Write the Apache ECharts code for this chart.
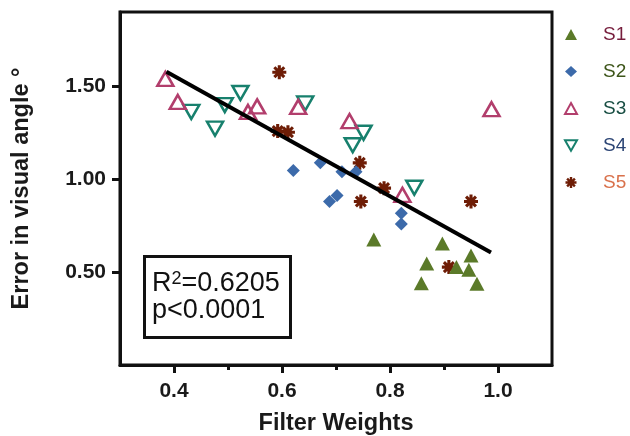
<!DOCTYPE html>
<html>
<head>
<meta charset="utf-8">
<script src="https://cdn.jsdelivr.net/npm/echarts@6/dist/echarts.min.js"></script>
<style>
  html, body { margin: 0; padding: 0; background: #fff; }
  #chart { width: 630px; height: 436px; }
</style>
</head>
<body>
<div id="chart"></div>
<script>
// Per-subject measurements: filter weight (x) vs. error in visual angle (y)
var s1X = [0.770, 0.897, 0.868, 0.858, 0.923, 0.950, 0.946, 0.961];
var s1Y = [0.676, 0.654, 0.546, 0.440, 0.527, 0.590, 0.513, 0.437];

var s2X = [0.621, 0.671, 0.711, 0.737, 0.688, 0.702, 0.821, 0.821];
var s2Y = [1.047, 1.088, 1.040, 1.040, 0.880, 0.912, 0.817, 0.759];

var s3X = [0.384, 0.407, 0.537, 0.554, 0.630, 0.725, 0.823, 0.988];
var s3Y = [1.540, 1.416, 1.362, 1.392, 1.389, 1.313, 0.916, 1.377];

var s4X = [0.432, 0.476, 0.494, 0.523, 0.643, 0.731, 0.751, 0.845];
var s4Y = [1.362, 1.272, 1.399, 1.464, 1.408, 1.183, 1.250, 0.954];

var s5X = [0.595, 0.592, 0.611, 0.744, 0.789, 0.746, 0.950, 0.909];
var s5Y = [1.576, 1.259, 1.253, 1.088, 0.952, 0.880, 0.880, 0.527];

// Linear fit endpoints
var fitX = [0.386, 0.987];
var fitY = [1.579, 0.605];

// Axis ticks
var xMajorTicks = [0.4, 0.6, 0.8, 1.0];
var xMinorTicks = [0.5, 0.7, 0.9];
var yTicks = [0.5, 1.0, 1.5];

var seriesNames = ['S1', 'S2', 'S3', 'S4', 'S5'];
var statLine1 = '=0.6205';
var statLine2 = 'p<0.0001';

function pairs(xs, ys) {
  return xs.map(function (x, i) { return [x, ys[i]]; });
}

// 8-spoke asterisk built from four crossed bars
function asteriskPath(w) {
  var L = 1, d = '';
  for (var k = 0; k < 4; k++) {
    var a = k * Math.PI / 4;
    var dx = Math.cos(a), dy = Math.sin(a);
    var nx = -dy, ny = dx;
    var pts = [
      [dx * L + nx * w, dy * L + ny * w],
      [-dx * L + nx * w, -dy * L + ny * w],
      [-dx * L - nx * w, -dy * L - ny * w],
      [dx * L - nx * w, dy * L - ny * w]
    ];
    d += 'M' + pts.map(function (p) { return p[0].toFixed(3) + ' ' + p[1].toFixed(3); }).join('L') + 'Z';
  }
  return 'path://' + d;
}
var STAR = asteriskPath(0.22);
var DOWN_TRIANGLE = 'path://M0 0L2 0L1 1.75Z';

var FONT = "'Liberation Sans', Arial, Helvetica, sans-serif";
var colS1 = '#5b7a29', colS2 = '#3c6aaa', colS3 = '#b23e6c', colS4 = '#17806d', colS5 = '#6e1d06';
var txtS1 = '#761d3c', txtS2 = '#3d5519', txtS3 = '#174d42', txtS4 = '#2b4474', txtS5 = '#d9714b';

var chart = echarts.init(document.getElementById('chart'), null, { renderer: 'canvas' });

chart.setOption({
  animation: false,
  backgroundColor: '#ffffff',
  grid: {
    left: 120, right: 78, top: 12, bottom: 71,
    containLabel: false, outerBoundsMode: 'none',
    show: true, borderColor: '#111', borderWidth: 3, backgroundColor: 'transparent'
  },
  legend: {
    orient: 'vertical',
    left: 559, top: 20,
    itemWidth: 12, itemHeight: 11, itemGap: 18,
    textStyle: { fontFamily: FONT, fontSize: 19, lineHeight: 19, padding: [0, 0, 0, 21] },
    data: [
      { name: seriesNames[0], textStyle: { color: txtS1 } },
      { name: seriesNames[1], textStyle: { color: txtS2 } },
      { name: seriesNames[2], textStyle: { color: txtS3 } },
      { name: seriesNames[3], icon: DOWN_TRIANGLE, textStyle: { color: txtS4 } },
      { name: seriesNames[4], icon: STAR, textStyle: { color: txtS5 } }
    ]
  },
  xAxis: [{
    type: 'value', min: 0.3, max: 1.1, interval: 0.1,
    name: 'Filter Weights', nameLocation: 'middle', nameGap: 47,
    nameTextStyle: { fontFamily: FONT, fontSize: 23.5, fontWeight: 'bold', color: '#1a1a1a' },
    axisLine: { show: true, onZero: false, lineStyle: { color: '#111', width: 3 } },
    axisTick: { show: true, length: 8, customValues: xMajorTicks, lineStyle: { color: '#111', width: 3 } },
    axisLabel: {
      customValues: xMajorTicks, margin: 16,
      fontFamily: FONT, fontSize: 21, fontWeight: 'bold', color: '#1a1a1a',
      formatter: function (v) { return v.toFixed(1); }
    },
    splitLine: { show: false }
  }, {
    type: 'value', min: 0.3, max: 1.1, interval: 0.1, position: 'bottom',
    axisLine: { show: false },
    axisTick: { show: true, length: 5, customValues: xMinorTicks, lineStyle: { color: '#111', width: 3 } },
    axisLabel: { show: false },
    splitLine: { show: false }
  }],
  yAxis: {
    type: 'value', min: 0, max: 1.9, interval: 0.1,
    name: 'Error in visual angle °', nameLocation: 'middle', nameGap: 86, nameRotate: 90,
    nameTextStyle: { fontFamily: FONT, fontSize: 23.5, fontWeight: 'bold', color: '#1a1a1a' },
    axisLine: { show: true, onZero: false, lineStyle: { color: '#111', width: 3 } },
    axisTick: { show: true, length: 8, customValues: yTicks, lineStyle: { color: '#111', width: 3 } },
    axisLabel: {
      customValues: yTicks, margin: 14,
      fontFamily: FONT, fontSize: 21, fontWeight: 'bold', color: '#1a1a1a',
      formatter: function (v) { return v.toFixed(2); }
    },
    splitLine: { show: false }
  },
  graphic: [{
    type: 'rect', z: 20,
    shape: { x: 144.5, y: 256.5, width: 146, height: 81 },
    style: { fill: '#fff', stroke: '#111', lineWidth: 3 }
  }, {
    type: 'text', z: 21, left: 152, top: 270,
    style: {
      text: '{a|R}{s|2}{a|' + statLine1 + '}\n{a|' + statLine2 + '}',
      fill: '#111',
      rich: {
        a: { fontFamily: FONT, fontSize: 27, lineHeight: 27, fill: '#111' },
        s: { fontFamily: FONT, fontSize: 18, lineHeight: 27, verticalAlign: 'top', fill: '#111' }
      }
    }
  }],
  series: [{
    name: seriesNames[4], type: 'scatter', z: 2,
    symbol: STAR, symbolSize: 14,
    itemStyle: { color: colS5, opacity: 1 },
    data: pairs(s5X, s5Y)
  }, {
    name: seriesNames[3], type: 'scatter', z: 2,
    symbol: 'triangle', symbolRotate: 180, symbolSize: [16, 14],
    itemStyle: { color: 'rgba(255,255,255,0)', borderColor: colS4, borderWidth: 2.5, opacity: 1 },
    data: pairs(s4X, s4Y)
  }, {
    name: seriesNames[2], type: 'scatter', z: 2,
    symbol: 'triangle', symbolSize: [16, 14],
    itemStyle: { color: 'rgba(255,255,255,0)', borderColor: colS3, borderWidth: 2.5, opacity: 1 },
    data: pairs(s3X, s3Y)
  }, {
    name: seriesNames[1], type: 'scatter', z: 2,
    symbol: 'diamond', symbolSize: 13,
    itemStyle: { color: colS2, opacity: 1 },
    data: pairs(s2X, s2Y)
  }, {
    name: seriesNames[0], type: 'scatter', z: 3,
    symbol: 'triangle', symbolSize: [15, 14],
    itemStyle: { color: colS1, opacity: 1 },
    data: pairs(s1X, s1Y)
  }, {
    name: 'fit', type: 'line', z: 5,
    symbol: 'none', silent: true,
    lineStyle: { color: '#000', width: 4 },
    data: pairs(fitX, fitY)
  }]
});
</script>
</body>
</html>
